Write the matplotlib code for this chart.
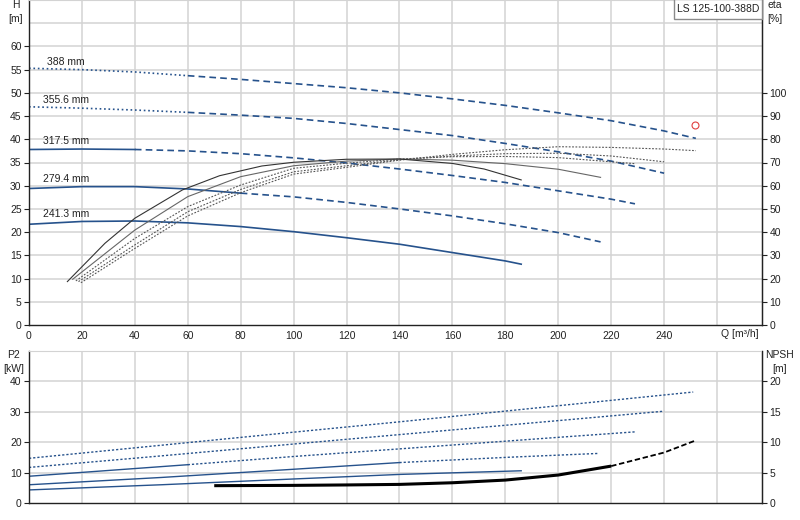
import numpy as np
import matplotlib
matplotlib.use("Agg")
import matplotlib.pyplot as plt
from matplotlib.patches import Rectangle

plt.rcParams['font.family'] = ['Liberation Sans', 'DejaVu Sans']
plt.rcParams['font.size'] = 7.5

# impeller diameters, largest first
diameters = ["388 mm", "355.6 mm", "317.5 mm", "279.4 mm", "241.3 mm"]

# head curves H [m]
q_h = [
    [0, 20, 40, 60, 80, 100, 120, 140, 160, 180, 200, 220, 240, 252],
    [0, 20, 40, 60, 80, 100, 120, 140, 160, 180, 200, 220, 240],
    [0, 20, 40, 60, 80, 100, 120, 140, 160, 180, 200, 220, 229],
    [0, 20, 40, 60, 80, 100, 120, 140, 160, 180, 200, 216],
    [0, 20, 40, 60, 80, 100, 120, 140, 160, 180, 186],
]
h_vals = [
    [55.3, 55.0, 54.5, 53.7, 52.9, 52.0, 51.1, 50.0, 48.7, 47.3, 45.7, 44.0, 41.8, 40.2],
    [47.0, 46.7, 46.3, 45.8, 45.2, 44.5, 43.4, 42.1, 40.8, 39.1, 37.3, 35.3, 32.7],
    [37.8, 37.9, 37.8, 37.5, 36.9, 36.0, 34.9, 33.6, 32.2, 30.7, 28.9, 27.1, 26.1],
    [29.4, 29.8, 29.8, 29.3, 28.4, 27.6, 26.4, 25.0, 23.5, 21.8, 19.9, 17.9],
    [21.7, 22.3, 22.4, 22.0, 21.2, 20.1, 18.8, 17.4, 15.6, 13.8, 13.1],
]
# index where the curve style changes, and style of the first part
h_split = [3, 3, 2, 4, None]
h_first = [":", ":", "-", "-", "-"]

# efficiency curves eta [%]
q_eta = [
    [19.6, 40, 60, 80, 100, 120, 140, 160, 180, 200, 220, 240, 252],
    [18.7, 40, 60, 80, 100, 120, 140, 160, 180, 200, 220, 240],
    [17.7, 40, 60, 80, 100, 120, 140, 160, 180, 200, 229],
    [16.5, 40, 60, 80, 100, 120, 140, 160, 180, 200, 216],
    [14.5, 28.7, 40, 58, 72, 88, 100, 120, 140, 160, 172, 186],
]
eta_vals = [
    [18.2, 33.0, 47.0, 57.0, 65.0, 67.9, 71.0, 73.5, 75.5, 76.8, 76.5, 75.8, 75.1],
    [18.7, 34.5, 48.8, 58.4, 66.0, 68.6, 71.2, 72.8, 73.8, 74.0, 72.8, 70.3],
    [19.0, 37.3, 51.0, 60.3, 67.5, 69.7, 71.5, 72.5, 72.6, 72.1, 69.5],
    [19.7, 40.9, 55.3, 63.9, 68.6, 70.6, 71.5, 71.0, 69.5, 67.1, 63.6],
    [18.7, 35.2, 46.0, 58.2, 64.3, 68.5, 70.1, 71.4, 71.5, 69.6, 67.2, 62.5],
]

# shaft power P2 [kW]
q_p2 = [
    [0, 50, 100, 140, 200, 251],
    [0, 50, 100, 140, 200, 240],
    [0, 60, 100, 140, 200, 229],
    [0, 50, 100, 140, 180, 215],
    [0, 50, 100, 140, 186],
]
p2_vals = [
    [14.7, 19.0, 23.3, 26.7, 32.0, 36.5],
    [11.7, 15.5, 19.4, 22.5, 27.1, 30.2],
    [8.8, 12.6, 15.3, 17.8, 21.6, 23.4],
    [6.0, 8.4, 11.1, 13.3, 15.0, 16.3],
    [4.3, 6.0, 7.9, 9.4, 10.6],
]
p2_split = [None, None, 1, 3, None]

# NPSH [m]
q_npsh = [70, 100, 120, 140, 160, 180, 200, 220, 240, 252]
npsh_vals = [2.85, 2.9, 2.97, 3.06, 3.33, 3.77, 4.6, 6.07, 8.3, 10.3]

duty_q, duty_h = 251.6, 43.1
label_pos = [(6.7, 56.7), (5.3, 48.5), (5.3, 39.7), (5.3, 31.4), (5.3, 23.9)]

BLUE = '#26528c'
GRID = '#d3d3d3'
DASH = (0, (4, 2.5))
DOT = (0, (1.6, 1.4))

W, H = 800, 520


def style_axis(ax, ylim, yticks, ygrid):
    ax.set_xlim(0, 277)
    ax.set_ylim(*ylim)
    ax.set_yticks(yticks)
    for x in range(20, 261, 20):
        ax.axvline(x, color=GRID, lw=1.1, zorder=0)
    for y in ygrid:
        ax.axhline(y, color=GRID, lw=1.1, zorder=0)
    ax.spines['top'].set_color(GRID)
    for s in ['left', 'bottom', 'right']:
        ax.spines[s].set_color('#222222')
        ax.spines[s].set_linewidth(1.0)
    ax.tick_params(axis='y', length=3.6, width=0.8, pad=1.7, colors='#222222')
    ax.tick_params(axis='x', length=0, pad=4, colors='#222222')


def draw_split(ax, q, v, k, first, rest, color, lw):
    if k is None:
        ax.plot(q, v, color=color, lw=lw, ls=first)
        return
    ax.plot(q[:k + 1], v[:k + 1], color=color, lw=lw, ls=first)
    ax.plot(q[k:], v[k:], color=color, lw=lw, ls=rest)


fig = plt.figure(figsize=(W / 100, H / 100), dpi=100)

# upper chart: head + efficiency
ax_h = fig.add_axes([29 / W, 1 - 325 / H, 733 / W, 325 / H])
style_axis(ax_h, (0, 70), range(0, 61, 5), range(5, 70, 5))
ax_h.set_xticks(range(0, 241, 20))

for i in range(len(diameters)):
    draw_split(ax_h, q_h[i], h_vals[i], h_split[i], h_first[i], DASH, BLUE, 1.2)
    ax_h.text(label_pos[i][0], label_pos[i][1], diameters[i], ha='left', va='center',
              color='#222222')

ax_h.plot(duty_q, duty_h, 'o', mfc='none', mec='#e04040', ms=5, mew=0.8)

ax_eta = ax_h.twinx()
ax_eta.set_ylim(0, 140)
ax_eta.set_yticks(range(0, 101, 10))
ax_eta.tick_params(axis='y', length=3.6, width=0.8, pad=1.7, colors='#222222')
for s in ['left', 'top', 'bottom']:
    ax_eta.spines[s].set_visible(False)
ax_eta.spines['right'].set_color('#222222')

eta_styles = [(DOT, '#555555'), (DOT, '#555555'), (DOT, '#555555'),
              ('-', '#666666'), ('-', '#333333')]
for i in range(len(q_eta)):
    ax_eta.plot(q_eta[i], eta_vals[i], color=eta_styles[i][1], ls=eta_styles[i][0], lw=0.8)

fig.text(739.5 / W, 1 - 334 / H, "Q [m³/h]", ha='center', va='center', color='#222222')
fig.text(16 / W, 1 - 12 / H, "H\n[m]", ha='center', va='center', color='#222222', linespacing=1.45)
fig.text(775 / W, 1 - 12 / H, "eta\n[%]", ha='center', va='center', color='#222222', linespacing=1.45)

# lower chart: power + NPSH
ax_p = fig.add_axes([29 / W, 1 - 503 / H, 733 / W, 152 / H])
style_axis(ax_p, (0, 50), range(0, 41, 10), range(10, 50, 10))
ax_p.set_xticks([])

for i in range(len(q_p2)):
    first = '-' if p2_split[i] is not None or i == 4 else DOT
    draw_split(ax_p, q_p2[i], p2_vals[i], p2_split[i], first, DOT, BLUE, 1.0)

ax_n = ax_p.twinx()
ax_n.set_ylim(0, 25)
ax_n.set_yticks(range(0, 21, 5))
ax_n.tick_params(axis='y', length=3.6, width=0.8, pad=1.7, colors='#222222')
for s in ['left', 'top', 'bottom']:
    ax_n.spines[s].set_visible(False)
ax_n.spines['right'].set_color('#222222')
ax_n.plot(q_npsh[:8], npsh_vals[:8], color='black', lw=2.2, solid_capstyle='butt')
ax_n.plot(q_npsh[7:], npsh_vals[7:], color='black', lw=1.3, ls=(0, (3, 1.5)))

fig.text(13.5 / W, 1 - 362 / H, "P2\n[kW]", ha='center', va='center', color='#222222', linespacing=1.45)
fig.text(780 / W, 1 - 362 / H, "NPSH\n[m]", ha='center', va='center', color='#222222', linespacing=1.45)

# pump name box
fig.patches.append(Rectangle((674 / W, 1 - 19 / H), 88 / W, 20 / H, transform=fig.transFigure,
                             facecolor='white', edgecolor='#8a8a8a', lw=1.0, zorder=5))
fig.text(718 / W, 1 - 9 / H, "LS 125-100-388D", ha='center', va='center', color='#222222', zorder=6)

fig.savefig("out.png", dpi=100)
